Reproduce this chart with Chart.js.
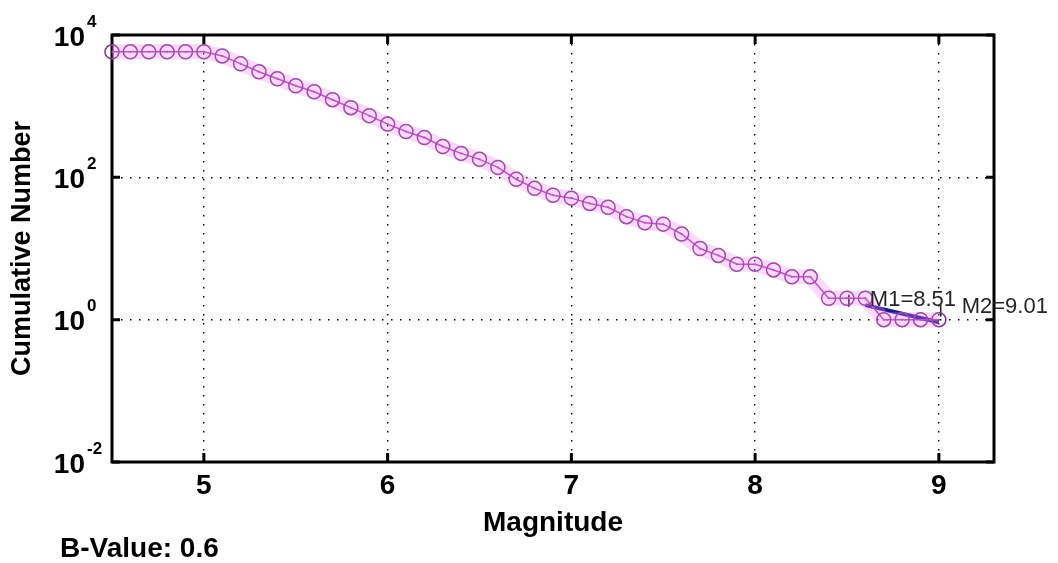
<!DOCTYPE html>
<html>
<head>
<meta charset="utf-8">
<title>Cumulative Number vs Magnitude</title>
<script src="https://cdn.jsdelivr.net/npm/chart.js@4.4.1/dist/chart.umd.min.js"></script>
<style>
  html, body { margin: 0; padding: 0; background: #fff; }
</style>
</head>
<body>
<canvas id="bvalue-chart" width="1058" height="563"></canvas>
<script>
// magnitude bins and cumulative counts
const magnitudes = [4.5, 4.6, 4.7, 4.8, 4.9, 5.0, 5.1, 5.2, 5.3, 5.4, 5.5, 5.6, 5.7, 5.8, 5.9,
                    6.0, 6.1, 6.2, 6.3, 6.4, 6.5, 6.6, 6.7, 6.8, 6.9,
                    7.0, 7.1, 7.2, 7.3, 7.4, 7.5, 7.6, 7.7, 7.8, 7.9,
                    8.0, 8.1, 8.2, 8.3, 8.4, 8.5, 8.6, 8.7, 8.8, 8.9, 9.0];
const cumulative = [5800, 5800, 5800, 5800, 5800, 5800, 5080, 3930, 3040, 2425, 1935, 1595, 1233, 953, 736,
                    560, 440, 363, 271, 217, 179, 138, 94, 70, 56,
                    51, 43, 38, 28, 23, 22, 16, 10, 8, 6,
                    6, 5, 4, 4, 2, 2, 2, 1, 1, 1, 1];

// b-value fit line and M1 / M2 markers
const fitMags = [8.6, 9.0];
const fitValues = [1.6, 0.92];
const markerMags = [8.51, 9.01];
const markerValues = [1.84, 1.34];
const markerLabels = ['M1=8.51', 'M2=9.01'];
const bValue = 0.6;

// axes
const xTicks = [5, 6, 7, 8, 9];
const yTicks = [0.01, 1, 100, 10000];
const yTickExponents = ['-2', '0', '2', '4'];

const FONT = '"Liberation Sans", Arial, sans-serif';

const toPoints = (xs, ys) => xs.map((m, i) => ({x: m, y: ys[i]}));

// matlab style box, inward ticks, and all the text
const matlabFrame = {
    id: 'matlabFrame',
    beforeDatasetsDraw(chart) {
        const {ctx, chartArea: a, scales: {x, y}} = chart;
        ctx.save();
        ctx.strokeStyle = '#000';
        ctx.lineWidth = 3;
        ctx.strokeRect(a.left, a.top, a.right - a.left, a.bottom - a.top);
        ctx.beginPath();
        xTicks.forEach(v => {
            const px = x.getPixelForValue(v);
            ctx.moveTo(px, a.bottom); ctx.lineTo(px, a.bottom - 9);
            ctx.moveTo(px, a.top); ctx.lineTo(px, a.top + 9);
        });
        yTicks.forEach(v => {
            const py = y.getPixelForValue(v);
            ctx.moveTo(a.left, py); ctx.lineTo(a.left + 8, py);
            ctx.moveTo(a.right, py); ctx.lineTo(a.right - 8, py);
        });
        ctx.stroke();
        ctx.restore();
    },
    afterDraw(chart) {
        const {ctx, chartArea: a, scales: {x, y}} = chart;
        ctx.save();
        ctx.fillStyle = '#000';

        // x tick labels
        ctx.font = 'bold 28px ' + FONT;
        ctx.textAlign = 'center';
        ctx.textBaseline = 'middle';
        xTicks.forEach(v => ctx.fillText(String(v), x.getPixelForValue(v), a.bottom + 24));

        // y tick labels 10^n
        yTicks.forEach((v, i) => {
            const py = y.getPixelForValue(v);
            ctx.font = 'bold 28px ' + FONT;
            ctx.textAlign = 'right';
            ctx.fillText('10', a.left - 27, py + 3);
            ctx.font = 'bold 17px ' + FONT;
            ctx.textAlign = 'left';
            ctx.fillText(yTickExponents[i], a.left - 25, py - 13);
        });

        // axis titles
        ctx.font = 'bold 28px ' + FONT;
        ctx.textAlign = 'center';
        ctx.fillText('Magnitude', (a.left + a.right) / 2, a.bottom + 61);
        ctx.save();
        ctx.translate(23, (a.top + a.bottom) / 2);
        ctx.rotate(-Math.PI / 2);
        ctx.font = 'bold 27px ' + FONT;
        ctx.fillText('Cumulative Number', 0, 0);
        ctx.restore();

        ctx.textAlign = 'left';
        ctx.fillText('B-Value: ' + bValue, 60, a.bottom + 87);

        // M1 / M2 labels
        ctx.font = '22px ' + FONT;
        ctx.fillStyle = '#262626';
        markerMags.forEach((m, i) => {
            const px = x.getPixelForValue(m);
            const py = y.getPixelForValue(markerValues[i]);
            ctx.fillText(markerLabels[i], px + 21, py - (i === 0 ? 1 : 4));
        });
        ctx.restore();
    }
};

const ctx = document.getElementById('bvalue-chart').getContext('2d');
const chart = new Chart(ctx, {
    type: 'line',
    data: {
        datasets: [
            {
                // soft pink halo round the curve
                data: toPoints(magnitudes, cumulative),
                borderColor: 'rgba(238, 140, 238, 0.3)',
                borderWidth: 15,
                pointRadius: 0,
                clip: false
            },
            {
                label: 'Cumulative Number',
                data: toPoints(magnitudes, cumulative),
                borderColor: '#c030c8',
                borderWidth: 1.5,
                pointStyle: 'circle',
                pointRadius: 7,
                pointBorderColor: '#8a2a9a',
                pointBorderWidth: 1.5,
                pointBackgroundColor: 'rgba(0,0,0,0)',
                clip: false
            },
            {
                data: toPoints(magnitudes, cumulative),
                showLine: false,
                pointRadius: 1,
                pointBorderWidth: 0,
                pointBackgroundColor: '#5a2a6a',
                clip: false
            },
            {
                label: 'fit',
                data: toPoints(fitMags, fitValues),
                borderColor: '#1a1a96',
                borderWidth: 4,
                pointRadius: 0,
                clip: false
            },
            {
                label: 'M1/M2',
                data: toPoints(markerMags, markerValues),
                showLine: false,
                pointStyle: 'line',
                rotation: 90,
                pointRadius: 6,
                pointBorderColor: '#222',
                pointBorderWidth: 1.6,
                clip: false
            }
        ]
    },
    options: {
        responsive: false,
        devicePixelRatio: 1,
        animation: false,
        layout: {
            padding: {top: 35, right: 64, bottom: 0, left: 0}
        },
        plugins: {
            legend: {display: false},
            tooltip: {enabled: false}
        },
        scales: {
            x: {
                type: 'linear',
                min: 4.5,
                max: 9.3,
                afterBuildTicks: s => { s.ticks = xTicks.map(v => ({value: v})); },
                afterFit: s => { s.height = 101; },
                ticks: {display: false},
                grid: {color: '#000', lineWidth: 1.4, drawTicks: false},
                border: {display: false, dash: [1.5, 7.5]}
            },
            y: {
                type: 'logarithmic',
                min: 0.01,
                max: 10000,
                afterBuildTicks: s => { s.ticks = yTicks.map(v => ({value: v})); },
                afterFit: s => { s.width = 112; },
                ticks: {display: false},
                grid: {color: '#000', lineWidth: 1.4, drawTicks: false},
                border: {display: false, dash: [1.5, 7.5]}
            }
        }
    },
    plugins: [matlabFrame]
});
</script>
</body>
</html>
